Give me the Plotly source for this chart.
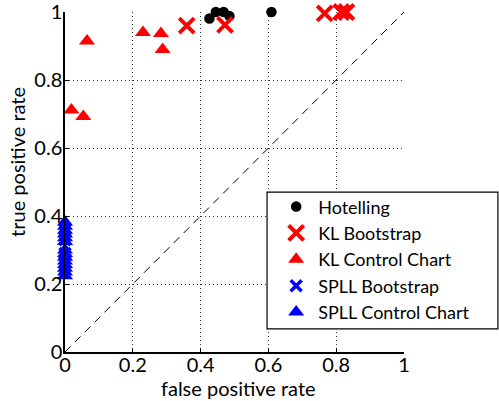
import plotly.graph_objects as go

# Data
hot_x = [0.426, 0.445, 0.468, 0.485, 0.609]
hot_y = [0.981, 1.000, 1.000, 0.988, 1.000]

klb_x = [0.359, 0.472, 0.766, 0.815, 0.830]
klb_y = [0.960, 0.962, 0.996, 1.000, 1.000]

klc_x = [0.065, 0.019, 0.054, 0.230, 0.283, 0.288]
klc_y = [0.915, 0.712, 0.693, 0.940, 0.937, 0.890]

splb_x = [0.0, 0.0, 0.0, 0.0]
splb_y = [0.26, 0.29, 0.33, 0.36]

splc_x = [0.0] * 14
splc_y = [0.382, 0.370, 0.358, 0.347, 0.336, 0.325, 0.300,
          0.290, 0.279, 0.268, 0.257, 0.246, 0.235, 0.224]

x_title = "false positive rate"
y_title = "true positive rate"

FONT = "Lato"
FS = 20
LFS = 18

fig = go.Figure()

# diagonal reference line
fig.add_trace(go.Scatter(x=[0, 1], y=[0, 1], mode="lines",
                         line=dict(color="black", width=1, dash="8px,6px"),
                         showlegend=False, hoverinfo="skip"))

fig.add_trace(go.Scatter(x=hot_x, y=hot_y, mode="markers", name="Hotelling",
                         cliponaxis=False,
                         marker=dict(symbol="circle", size=10.5, color="black")))
fig.add_trace(go.Scatter(x=klb_x, y=klb_y, mode="markers", name="KL Bootstrap",
                         cliponaxis=False,
                         marker=dict(symbol="x-thin", size=15,
                                     line=dict(color="red", width=4), color="red")))
fig.add_trace(go.Scatter(x=klc_x, y=klc_y, mode="markers", name="KL Control Chart",
                         cliponaxis=False,
                         marker=dict(symbol="triangle-up", size=14, color="red")))
fig.add_trace(go.Scatter(x=splb_x, y=splb_y, mode="markers", name="SPLL Bootstrap",
                         cliponaxis=False,
                         marker=dict(symbol="x-thin", size=11,
                                     line=dict(color="blue", width=3.5), color="blue")))
fig.add_trace(go.Scatter(x=splc_x, y=splc_y, mode="markers", name="SPLL Control Chart",
                         cliponaxis=False,
                         marker=dict(symbol="triangle-up", size=14, color="blue")))

axis_common = dict(
    range=[0, 1], dtick=0.2, tick0=0, automargin=False,
    showgrid=True, gridcolor="#333333", griddash="1px,3px", gridwidth=1,
    zeroline=False, showline=True, linecolor="black", linewidth=1.5,
    ticks="inside", ticklen=4, tickcolor="black",
    tickfont=dict(family=FONT, size=FS, color="black"),
    tickformat="~g", ticklabeloverflow="allow",
)

# legend frame (box drawn as a shape, in paper coordinates)
fig.add_shape(type="rect", xref="paper", yref="paper",
              x0=0.596, x1=1.277, y0=0.068, y1=0.47,
              line=dict(color="black", width=1.2), fillcolor="white", layer="above")

# axis titles
fig.add_annotation(text=x_title, xref="paper", yref="paper", x=0.512, y=-0.106,
                   xanchor="center", yanchor="middle", showarrow=False,
                   font=dict(family=FONT, size=FS, color="black"))
fig.add_annotation(text=y_title, xref="paper", yref="paper", x=-0.1416, y=0.559,
                   xanchor="center", yanchor="middle", showarrow=False, textangle=-90,
                   font=dict(family=FONT, size=FS, color="black"))

fig.update_layout(
    width=499, height=401,
    margin=dict(l=65, r=95, t=12, b=49, autoexpand=False),
    paper_bgcolor="white", plot_bgcolor="white",
    font=dict(family=FONT, size=FS, color="black"),
    xaxis=dict(**axis_common, ticklabelstandoff=-6),
    yaxis=dict(**axis_common, ticklabelstandoff=-3),
    legend=dict(x=0.617, y=0.4815, xanchor="left", yanchor="top",
                bgcolor="rgba(0,0,0,0)", borderwidth=0,
                font=dict(family=FONT, size=LFS), tracegroupgap=0,
                itemwidth=34),
    showlegend=True,
)

fig.write_html("out.html", config={"displayModeBar": False},
               post_script="document.body.style.margin='0px';")
